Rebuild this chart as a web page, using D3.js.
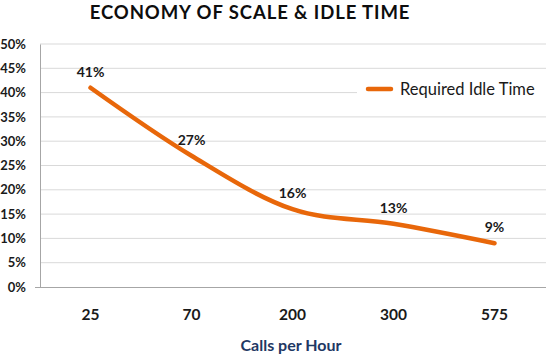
<!DOCTYPE html>
<html><head><meta charset="utf-8">
<script src="https://cdn.jsdelivr.net/npm/d3@7"></script>
<style>
html,body{margin:0;padding:0;background:#fff;}
svg{display:block;font-family:Lato,"Open Sans",sans-serif;}
</style></head>
<body><svg id="c" width="546" height="355"></svg>
<script>
const categories = ["25","70","200","300","575"];
const idleTime = [0.41,0.27,0.16,0.13,0.09];
const yTicks = [0,0.05,0.10,0.15,0.20,0.25,0.30,0.35,0.40,0.45,0.50];
const dataLabels = ["41%","27%","16%","13%","9%"];
const seriesName = "Required Idle Time";
const titleText = "ECONOMY OF SCALE & IDLE TIME";
const xTitle = "Calls per Hour";

const svg = d3.select("#c");
const x = d3.scaleBand().domain(categories).range([40,545]);
const y = d3.scaleLinear().domain([0,0.5]).range([287,44]);
const cx = d => x(d) + x.bandwidth()/2;

// gridlines
svg.append("g").selectAll("line").data(yTicks.filter(t=>t>0)).join("line")
  .attr("x1",40).attr("x2",546).attr("y1",d=>y(d)).attr("y2",d=>y(d))
  .attr("stroke","#d9d9d9").attr("stroke-width",1);

// y axis
const yAxis = svg.append("g").attr("transform","translate(40,0)")
  .call(d3.axisLeft(y).tickValues(yTicks).tickFormat(d3.format(".0%")).tickSize(0).tickPadding(14));
yAxis.select(".domain").attr("stroke","#a6a6a6");
yAxis.selectAll("text").attr("font-size",13).attr("font-weight","bold").attr("fill","#1a1a1a")
  .attr("font-family","Lato,sans-serif");

// x axis
const xAxis = svg.append("g").attr("transform","translate(0,287)")
  .call(d3.axisBottom(x).tickSize(0).tickPadding(22));
xAxis.select(".domain").attr("stroke","#a6a6a6").attr("d","M35,0.5H546");
xAxis.selectAll("text").attr("font-size",15.5).attr("font-weight","bold").attr("fill","#1a1a1a")
  .attr("font-family","Lato,sans-serif");

// legend background
svg.append("rect").attr("x",357).attr("y",75).attr("width",189).attr("height",30).attr("fill","#fff");

// line
const line = d3.line().x((d,i)=>cx(categories[i])).y(d=>y(d)).curve(d3.curveCardinal.tension(0));
svg.append("path").datum(idleTime).attr("d",line).attr("fill","none")
  .attr("stroke","#e8670a").attr("stroke-width",4.5).attr("stroke-linecap","round");

// data labels
svg.append("g").selectAll("text").data(idleTime).join("text")
  .attr("x",(d,i)=>cx(categories[i])).attr("y",d=>y(d)-16).attr("dy","0.35em")
  .attr("text-anchor","middle").attr("font-size",14).attr("font-weight","bold").attr("fill","#1a1a1a")
  .text((d,i)=>dataLabels[i]);

// legend
svg.append("line").attr("x1",368).attr("x2",391).attr("y1",89).attr("y2",89)
  .attr("stroke","#e8670a").attr("stroke-width",4.5).attr("stroke-linecap","round");
svg.append("text").attr("x",400).attr("y",89).attr("dy","0.35em").attr("font-size",16.5)
  .attr("fill","#1a1a1a").text(seriesName);

// title
svg.append("text").attr("x",250).attr("y",19).attr("text-anchor","middle")
  .attr("font-size",18.5).attr("font-weight","bold").attr("letter-spacing","0.9px")
  .attr("fill","#0d0d0d").text(titleText);

// x title
svg.append("text").attr("x",291).attr("y",345).attr("dy","0.35em").attr("text-anchor","middle")
  .attr("font-size",16).attr("font-weight","bold").attr("fill","#1f3864").text(xTitle);
</script></body></html>
